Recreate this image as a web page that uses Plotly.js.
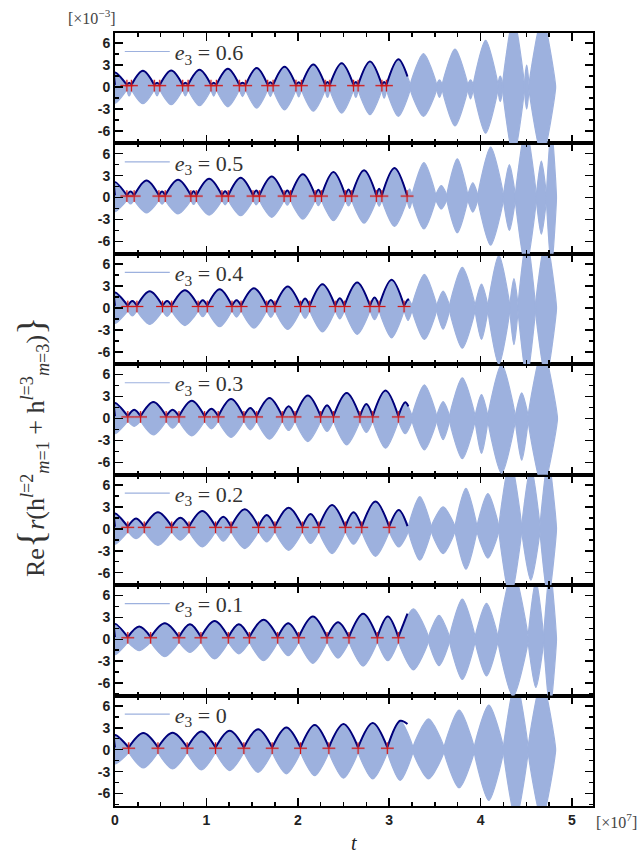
<!DOCTYPE html>
<html><head><meta charset="utf-8">
<script src="https://cdn.plot.ly/plotly-3.0.1.min.js"></script>
<style>html,body{margin:0;padding:0;background:#fff}</style>
</head><body><div id="chart" style="width:639px;height:857px"></div>
<script>
// ---- data (t in units of 1e7, signal in units of 1e-3) ----
// panels from top to bottom
const e3Labels = ["0.6", "0.5", "0.4", "0.3", "0.2", "0.1", "0"];

const nodes_06 = [0, 0.13, 0.18, 0.43, 0.49, 0.74, 0.80, 1.05, 1.11, 1.36, 1.43, 1.67, 1.73, 1.98, 2.04, 2.30, 2.35, 2.61, 2.66, 2.92, 2.97, 3.23, 3.52, 3.58, 3.86, 3.92, 4.19, 4.24, 4.48, 4.53, 4.82];
const up_06  = [2.0, 0.6, 2.23, 0.6, 2.27, 0.6, 2.36, 0.6, 2.5, 0.6, 2.6, 0.65, 2.8, 0.65, 3.1, 0.7, 3.27, 0.7, 3.5, 0.7, 3.8, 4.6, 1.0, 5.2, 1.0, 6.4, 1.5, 9.5, 3.0, 9.5];
const low_06 = [-2.2, -1.2, -2.27, -1.2, -2.4, -1.2, -2.55, -1.25, -2.7, -1.3, -2.86, -1.3, -3.1, -1.35, -3.3, -1.4, -3.55, -1.4, -3.77, -1.5, -4.0, -4.0, -1.4, -5.3, -1.6, -6.3, -2.0, -9.5, -3.0, -9.5];
const darkEnd_06 = [3.2, 1.45];

const nodes_05 = [0, 0.13, 0.21, 0.48, 0.55, 0.83, 0.89, 1.17, 1.24, 1.51, 1.58, 1.85, 1.92, 2.19, 2.26, 2.52, 2.59, 2.86, 2.92, 3.196, 3.25, 3.51, 3.63, 3.86, 3.97, 4.25, 4.38, 4.61, 4.72, 4.83];
const up_05  = [2.1, 0.83, 2.34, 0.83, 2.43, 0.87, 2.57, 0.87, 2.7, 0.96, 2.89, 0.96, 3.17, 1.05, 3.49, 1.1, 3.72, 1.19, 4.04, 1.2, 4.77, 1.65, 5.3, 2.0, 6.9, 4.5, 9.5, 5.0, 9.5];
const low_05 = [-1.93, -0.87, -2.1, -0.9, -2.25, -0.95, -2.4, -1.0, -2.48, -1.0, -2.7, -1.05, -2.94, -1.1, -3.17, -1.15, -3.5, -1.2, -3.95, -1.5, -4.3, -1.56, -4.8, -2.0, -6.5, -4.5, -9.5, -5.0, -9.5];
const darkEnd_05 = [3.2, 0.4];

const nodes_04 = [0, 0.14, 0.24, 0.52, 0.62, 0.91, 1.01, 1.28, 1.38, 1.66, 1.75, 2.03, 2.13, 2.41, 2.51, 2.79, 2.89, 3.163, 3.25, 3.52, 3.66, 3.94, 4.08, 4.32, 4.41, 4.6, 4.83];
const up_04  = [2.1, 0.96, 2.29, 0.96, 2.43, 1.05, 2.57, 1.05, 2.7, 1.1, 2.94, 1.28, 3.26, 1.33, 3.49, 1.42, 3.85, 1.2, 4.6, 2.3, 5.55, 3.26, 7.2, 4.0, 9.5, 9.5];
const low_04 = [-2.1, -1.1, -2.25, -1.15, -2.4, -1.2, -2.57, -1.25, -2.75, -1.3, -2.94, -1.4, -3.26, -1.5, -3.62, -1.6, -4.08, -1.7, -4.3, -2.9, -5.5, -4.3, -7.7, -5.0, -9.5, -9.5];
const darkEnd_04 = [3.21, 1.0];

const nodes_03 = [0, 0.14, 0.28, 0.56, 0.70, 0.98, 1.13, 1.41, 1.55, 1.83, 1.97, 2.25, 2.39, 2.68, 2.82, 3.10, 3.25, 3.52, 3.66, 3.94, 4.08, 4.38, 4.52, 4.84];
const up_03  = [2.1, 1.19, 2.25, 1.19, 2.43, 1.33, 2.66, 1.42, 2.8, 1.65, 3.12, 1.79, 3.49, 1.97, 3.8, 2.2, 4.6, 2.3, 5.55, 3.26, 7.4, 3.5, 9.5];
const low_03 = [-2.1, -1.1, -2.25, -1.33, -2.39, -1.42, -2.6, -1.56, -2.84, -1.65, -3.17, -1.79, -3.62, -1.93, -4.08, -2.1, -4.3, -2.9, -5.5, -4.8, -7.5, -5.7, -9.5];
const darkEnd_03 = [3.21, 1.65];

const nodes_02 = [0, 0.14, 0.32, 0.62, 0.81, 1.10, 1.27, 1.57, 1.75, 2.05, 2.23, 2.52, 2.70, 3.00, 3.21, 3.46, 3.72, 3.96, 4.2, 4.45, 4.65, 4.83];
const up_02  = [2.1, 1.42, 2.25, 1.51, 2.43, 1.65, 2.66, 1.88, 2.89, 2.02, 3.26, 2.25, 3.72, 2.57, 4.4, 3.0, 5.55, 4.8, 9.5, 8.5, 9.5];
const low_02 = [-2.1, -1.33, -2.25, -1.56, -2.48, -1.7, -2.7, -1.79, -2.94, -2.0, -3.4, -2.1, -3.76, -2.48, -4.3, -3.4, -5.5, -4.0, -9.5, -7.0, -9.5];
const darkEnd_02 = [3.2, 0.37];

const nodes_01 = [0, 0.14, 0.39, 0.70, 0.94, 1.24, 1.47, 1.78, 2.01, 2.32, 2.56, 2.87, 3.10, 3.43, 3.66, 3.94, 4.19, 4.52, 4.69, 4.83];
const up_01  = [2.1, 1.74, 2.2, 2.06, 2.48, 2.06, 2.66, 2.2, 3.12, 2.34, 3.49, 3.12, 4.17, 3.26, 5.5, 4.9, 9.5, 8.0, 9.5];
const low_01 = [-2.1, -1.56, -2.39, -1.79, -2.7, -2.0, -2.94, -2.25, -3.3, -2.57, -3.67, -2.94, -4.2, -3.6, -5.5, -5.0, -7.8, -6.6, -9.5];
const darkEnd_01 = [3.2, 3.5];

const nodes_00 = [0, 0.15, 0.47, 0.79, 1.10, 1.41, 1.72, 2.03, 2.34, 2.66, 2.98, 3.26, 3.60, 3.93, 4.25, 4.52, 4.82];
const up_00  = [2.0, 2.27, 2.3, 2.5, 2.6, 2.8, 3.05, 3.36, 3.5, 3.64, 3.95, 4.2, 5.4, 6.1, 9.5, 9.5];
const low_00 = [-1.95, -2.5, -2.64, -2.77, -2.86, -3.1, -3.3, -3.55, -3.9, -4.0, -4.2, -4.0, -5.2, -6.95, -9.5, -9.5];
const darkEnd_00 = [3.2, 3.5];

const NODE_Y = 0.3;     // upper level where the envelope pinches (dark line touches)
const NECK_LOW = -0.3;  // lower level of the light band at the pinch
const MARK_Y = 0.2;     // level of the red node markers

const xTickVals = [0, 1, 2, 3, 4, 5];
const xTickText = ["0", "1", "2", "3", "4", "5"];
const yTickVals = [-6, -3, 0, 3, 6];
const yTickText = ["-6", "-3", "0", "3", "6"];

// ---- build ----
const panels = [
  [nodes_06, up_06, low_06, darkEnd_06],
  [nodes_05, up_05, low_05, darkEnd_05],
  [nodes_04, up_04, low_04, darkEnd_04],
  [nodes_03, up_03, low_03, darkEnd_03],
  [nodes_02, up_02, low_02, darkEnd_02],
  [nodes_01, up_01, low_01, darkEnd_01],
  [nodes_00, up_00, low_00, darkEnd_00]
];

const LIGHT = '#9db1de';
const DARK = '#00007a';

function peakT(nodes, i) { return i === 0 ? nodes[0] : (nodes[i] + nodes[i + 1]) / 2; }
function lobes(nodes, up, low) {
  const x = [], y = [];
  for (let i = 0; i < up.length; i++) {
    const a = nodes[i], b = nodes[i + 1], m = peakT(nodes, i);
    x.push(a, m, b, b, m, a, a, null);
    y.push(NODE_Y, up[i], NODE_Y, NECK_LOW, low[i], NECK_LOW, NODE_Y, null);
  }
  return { x, y };
}
function darkLine(nodes, up, end) {
  const x = [], y = [];
  for (let i = 0; i < up.length && nodes[i] < end[0]; i++) {
    const pt = peakT(nodes, i);
    x.push(nodes[i]); y.push(NODE_Y);
    if (nodes[i + 1] <= end[0]) { x.push(pt, nodes[i + 1]); y.push(up[i], NODE_Y); }
    else {
      if (pt < end[0]) { x.push(pt); y.push(up[i]); }
      x.push(end[0]); y.push(end[1]);
    }
    x.push(null); y.push(null);
  }
  return { x, y };
}

const traces = [];
const layout = {
  width: 639, height: 857,
  margin: { l: 115, r: 46, t: 33, b: 51 },
  paper_bgcolor: '#fff', plot_bgcolor: '#fff',
  showlegend: true,
  annotations: []
};

function px2x(px) { return (px - 115) / 478; }
function px2y(py) { return (806 - py) / 773; }

panels.forEach((pd, p) => {
  const k = 7 - p;
  const xa = k === 1 ? 'x' : 'x' + k;
  const ya = k === 1 ? 'y' : 'y' + k;
  const lg = k === 1 ? 'legend' : 'legend' + k;
  const [nodes, up, low, end] = pd;
  const lb = lobes(nodes, up, low);
  traces.push({ type: 'scatter', x: lb.x, y: lb.y, xaxis: xa, yaxis: ya, mode: 'lines', fill: 'toself', fillcolor: LIGHT,
    line: { width: 0, color: LIGHT, shape: 'spline', smoothing: 0.8 }, showlegend: false, hoverinfo: 'skip' });
  traces.push({ type: 'scatter', x: lb.x, y: lb.y, xaxis: xa, yaxis: ya, mode: 'lines',
    line: { width: 1.2, color: LIGHT, shape: 'spline', smoothing: 0.8 }, name: '<i>e</i><sub>3</sub> = ' + e3Labels[p],
    showlegend: true, legend: lg, hoverinfo: 'skip' });
  const dl = darkLine(nodes, up, end);
  traces.push({ type: 'scatter', x: dl.x, y: dl.y, xaxis: xa, yaxis: ya, mode: 'lines',
    line: { width: 2, color: DARK, shape: 'spline' }, showlegend: false, hoverinfo: 'skip' });
  const mx = nodes.filter(t => t > 0 && t < end[0]);
  const my = mx.map(() => MARK_Y);
  traces.push({ type: 'scatter', x: mx, y: my, xaxis: xa, yaxis: ya, mode: 'markers', marker: { size: 1, color: 'rgba(0,0,0,0)' },
    error_x: { type: 'constant', value: 0.07, width: 0, thickness: 2.6, color: 'rgba(215,90,90,0.3)' },
    error_y: { type: 'constant', value: 0.8, width: 0, thickness: 2.6, color: 'rgba(215,90,90,0.3)' },
    showlegend: false, hoverinfo: 'skip' });
  traces.push({ type: 'scatter', x: mx, y: my, xaxis: xa, yaxis: ya, mode: 'markers', marker: { size: 1, color: 'rgba(0,0,0,0)' },
    error_x: { type: 'constant', value: 0.07, width: 0, thickness: 1, color: '#d01515' },
    error_y: { type: 'constant', value: 0.8, width: 0, thickness: 1, color: '#d01515' },
    showlegend: false, hoverinfo: 'skip' });

  const d0 = (k - 1) / 7, d1 = k / 7;
  layout[k === 1 ? 'xaxis' : 'xaxis' + k] = {
    domain: [0, 1], anchor: ya, range: [0, 5.23],
    tickmode: 'array', tickvals: xTickVals, ticktext: xTickText, showticklabels: k === 1,
    ticks: 'inside', ticklen: 8, tickwidth: 1.5, tickcolor: '#000',
    minor: { ticks: 'inside', ticklen: 4, tickwidth: 1.5, tickcolor: '#000', dtick: 0.25, tick0: 0 },
    showline: true, linewidth: 2, linecolor: '#000', mirror: 'ticks', showgrid: false, zeroline: false,
    tickfont: { family: 'Liberation Sans', size: 14, weight: 'bold', color: '#222' }
  };
  layout[k === 1 ? 'yaxis' : 'yaxis' + k] = {
    domain: [d0, d1], anchor: xa, range: [-7.7, 7.4],
    tickmode: 'array', tickvals: yTickVals, ticktext: yTickText,
    ticks: 'inside', ticklen: 8, tickwidth: 1.5, tickcolor: '#000',
    minor: { ticks: 'inside', ticklen: 4, tickwidth: 1.5, tickcolor: '#000', dtick: 1.5, tick0: 0 },
    showline: true, linewidth: 2, linecolor: '#000', mirror: 'ticks', showgrid: false, zeroline: false,
    tickfont: { family: 'Liberation Sans', size: 14, weight: 'bold', color: '#222' }
  };
  layout[lg] = {
    x: 0.01, y: d1 + 0.003, xanchor: 'left', yanchor: 'top', bgcolor: 'rgba(0,0,0,0)', borderwidth: 0,
    font: { family: 'Liberation Serif', size: 22, color: '#333' }, itemwidth: 45, tracegroupgap: 0
  };
});

layout.annotations.push(
  { xref: 'paper', yref: 'paper', x: px2x(354), y: px2y(843), xanchor: 'center', yanchor: 'middle', text: '<i>t</i>', showarrow: false,
    font: { family: 'Liberation Serif', size: 20, color: '#222' } },
  { xref: 'paper', yref: 'paper', x: px2x(31), y: px2y(447), xanchor: 'center', yanchor: 'middle', textangle: -90, showarrow: false,
    text: 'Re<span style="font-size:38px">{</span><i>r</i>(h<sup><i>l</i>=2</sup><sub><i>m</i>=1</sub> + h<sup><i>l</i>=3</sup><sub><i>m</i>=3</sub>)<span style="font-size:38px">}</span>',
    font: { family: 'Liberation Serif', size: 26, color: '#333' } },
  { xref: 'paper', yref: 'paper', x: px2x(92), y: px2y(17), xanchor: 'center', yanchor: 'middle', showarrow: false,
    text: '[×10<sup>−3</sup>]', font: { family: 'Liberation Serif', size: 16, color: '#444' } },
  { xref: 'paper', yref: 'paper', x: px2x(616), y: px2y(821), xanchor: 'center', yanchor: 'middle', showarrow: false,
    text: '[×10<sup>7</sup>]', font: { family: 'Liberation Serif', size: 16, color: '#444' } }
);

Plotly.newPlot('chart', traces, layout, { staticPlot: true, displayModeBar: false });
</script>
</body></html>
